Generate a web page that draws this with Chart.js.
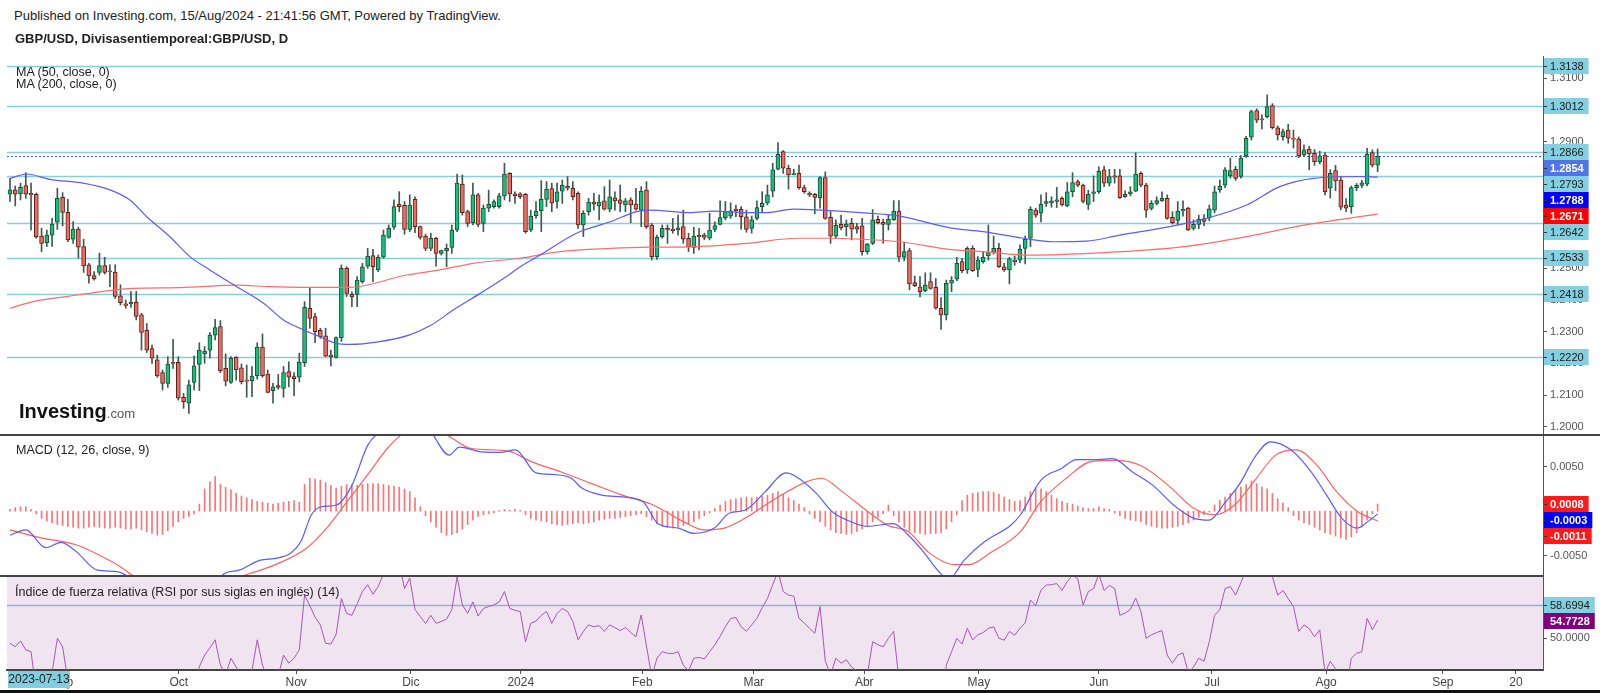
<!DOCTYPE html>
<html lang="es">
<head>
<meta charset="UTF-8">
<title>GBP/USD diario</title>
<script src="https://cdn.jsdelivr.net/npm/chart.js@4.4.1/dist/chart.umd.min.js"></script>
<style>
  body { margin: 0; background: #fff; }
  #wrap { position: relative; width: 1600px; height: 693px; overflow: hidden; font-family: "Liberation Sans", Arial, sans-serif; color: #222; }
  #wrap canvas { position: absolute; left: 0; }
  .t { position: absolute; white-space: nowrap; }
</style>
</head>
<body>
<div id="wrap">
  <canvas id="priceChart" width="1600" height="378" style="top:56px"></canvas>
  <canvas id="macdChart" width="1600" height="141" style="top:434px"></canvas>
  <canvas id="rsiChart" width="1600" height="115" style="top:575px"></canvas>

  <div class="t" style="left:14px;top:8px;font-size:13px">Published on Investing.com, 15/Aug/2024 - 21:41:56 GMT, Powered by TradingView.</div>
  <div class="t" style="left:15px;top:31px;font-size:13px;font-weight:bold">GBP/USD, Divisasentiemporeal:GBP/USD, D</div>
  <div class="t" style="left:16px;top:66px;font-size:12.5px;line-height:12px">MA (50, close, 0)<br>MA (200, close, 0)</div>
  <div class="t" style="left:19px;top:400px"><span style="font-size:20px;font-weight:bold;color:#111">Investing</span><span style="font-size:13px;color:#555">.com</span></div>
  <div class="t" style="left:16px;top:443px;font-size:12.5px">MACD (12, 26, close, 9)</div>
  <div class="t" style="left:15px;top:585px;font-size:12.5px">Índice de fuerza relativa (RSI por sus siglas en inglés) (14)</div>
  <div class="t" style="left:8px;top:671px;width:62px;height:17px;background:#80cfe0;font-size:12px;line-height:17px;text-align:center">2023-07-13</div>
  <div style="position:absolute;left:0;top:690px;width:1600px;height:3px;background:#111"></div>
</div>

<script>
// daily candles, oldest first
const openP = [
  1.2734,1.2748,1.2735,1.2761,1.2737,1.2734,1.2602,1.2581,1.2605,1.2646,
  1.2724,1.2677,1.2592,1.2624,1.2569,1.2511,1.2477,1.2487,1.2509,1.2491,
  1.2488,1.2413,1.2388,1.2388,1.2393,1.2353,1.2304,1.2247,1.2211,1.2171,
  1.2137,1.2203,1.2203,1.2093,1.2074,1.2140,1.2197,1.2230,1.2242,1.2289,
  1.2316,1.2184,1.2140,1.2219,1.2186,1.2147,1.2145,1.2161,1.2251,1.2166,
  1.2114,1.2130,1.2121,1.2174,1.2158,1.2156,1.2202,1.2374,1.2348,1.2304,
  1.2287,1.2226,1.2219,1.2281,1.2500,1.2418,1.2418,1.2458,1.2507,1.2540,
  1.2495,1.2535,1.2598,1.2630,1.2702,1.2699,1.2623,1.2718,1.2632,1.2602,
  1.2563,1.2595,1.2547,1.2556,1.2566,1.2621,1.2766,1.2679,1.2644,1.2732,
  1.2642,1.2690,1.2695,1.2695,1.2729,1.2800,1.2735,1.2735,1.2734,1.2621,
  1.2666,1.2682,1.2718,1.2752,1.2711,1.2744,1.2760,1.2753,1.2737,1.2637,
  1.2679,1.2709,1.2697,1.2713,1.2687,1.2723,1.2716,1.2700,1.2716,1.2703,
  1.2684,1.2747,1.2637,1.2537,1.2600,1.2626,1.2624,1.2621,1.2632,1.2595,
  1.2566,1.2604,1.2605,1.2595,1.2623,1.2639,1.2660,1.2665,1.2687,1.2686,
  1.2663,1.2626,1.2658,1.2695,1.2707,1.2744,1.2813,1.2869,1.2816,1.2796,
  1.2800,1.2755,1.2737,1.2734,1.2723,1.2787,1.2661,1.2602,1.2639,1.2632,
  1.2642,1.2632,1.2634,1.2553,1.2579,1.2655,1.2645,1.2639,1.2653,1.2681,
  1.2535,1.2556,1.2455,1.2442,1.2429,1.2458,1.2440,1.2374,1.2353,1.2453,
  1.2466,1.2521,1.2495,1.2563,1.2497,1.2521,1.2539,1.2550,1.2563,1.2505,
  1.2495,1.2526,1.2526,1.2563,1.2595,1.2684,1.2674,1.2705,1.2707,1.2711,
  1.2721,1.2697,1.2742,1.2774,1.2763,1.2702,1.2737,1.2742,1.2811,1.2769,
  1.2792,1.2792,1.2726,1.2735,1.2744,1.2800,1.2763,1.2689,1.2705,1.2713,
  1.2721,1.2661,1.2651,1.2682,1.2690,1.2626,1.2639,1.2657,1.2660,1.2684,
  1.2748,1.2763,1.2792,1.2813,1.2790,1.2855,1.2914,1.2998,1.2971,1.2979,
  1.3014,1.2944,1.2916,1.2937,1.2911,1.2908,1.2858,1.2877,1.2863,1.2837,
  1.2858,1.2753,1.2809,1.2779,1.2700,1.2695,1.2755,1.2762,1.2766,1.2866,
  1.2826
];
const highP = [
  1.2784,1.2760,1.2769,1.2802,1.2769,1.2738,1.2627,1.2621,1.2658,1.2753,
  1.2739,1.2718,1.2648,1.2630,1.2592,1.2516,1.2490,1.2548,1.2535,1.2511,
  1.2511,1.2448,1.2400,1.2427,1.2427,1.2358,1.2326,1.2258,1.2226,1.2179,
  1.2221,1.2276,1.2221,1.2105,1.2147,1.2223,1.2265,1.2253,1.2297,1.2339,
  1.2335,1.2230,1.2221,1.2221,1.2198,1.2195,1.2190,1.2265,1.2293,1.2179,
  1.2137,1.2165,1.2190,1.2205,1.2171,1.2232,1.2395,1.2437,1.2358,1.2311,
  1.2311,1.2242,1.2284,1.2511,1.2505,1.2426,1.2474,1.2516,1.2563,1.2560,
  1.2542,1.2621,1.2637,1.2716,1.2742,1.2711,1.2732,1.2726,1.2634,1.2608,
  1.2611,1.2598,1.2558,1.2577,1.2637,1.2798,1.2795,1.2684,1.2769,1.2737,
  1.2700,1.2747,1.2716,1.2737,1.2832,1.2802,1.2742,1.2739,1.2737,1.2684,
  1.2711,1.2777,1.2774,1.2769,1.2769,1.2779,1.2790,1.2774,1.2742,1.2682,
  1.2721,1.2737,1.2732,1.2758,1.2779,1.2742,1.2763,1.2721,1.2723,1.2753,
  1.2758,1.2774,1.2642,1.2605,1.2637,1.2637,1.2658,1.2668,1.2684,1.2611,
  1.2630,1.2626,1.2611,1.2674,1.2647,1.2713,1.2711,1.2707,1.2700,1.2695,
  1.2684,1.2665,1.2713,1.2742,1.2763,1.2832,1.2897,1.2872,1.2826,1.2813,
  1.2826,1.2763,1.2742,1.2737,1.2790,1.2805,1.2679,1.2653,1.2668,1.2653,
  1.2658,1.2642,1.2658,1.2579,1.2686,1.2665,1.2655,1.2668,1.2714,1.2714,
  1.2581,1.2563,1.2476,1.2474,1.2486,1.2486,1.2468,1.2408,1.2463,1.2474,
  1.2535,1.2532,1.2568,1.2571,1.2537,1.2553,1.2637,1.2602,1.2579,1.2516,
  1.2535,1.2539,1.2574,1.2602,1.2695,1.2690,1.2732,1.2739,1.2726,1.2756,
  1.2726,1.2771,1.2802,1.2779,1.2766,1.2747,1.2792,1.2821,1.2823,1.2813,
  1.2813,1.2813,1.2745,1.2758,1.2865,1.2805,1.2769,1.2714,1.2726,1.2742,
  1.2732,1.2679,1.2711,1.2713,1.2693,1.2653,1.2668,1.2670,1.2700,1.2760,
  1.2779,1.2818,1.2848,1.2822,1.2856,1.2917,1.3000,1.3004,1.2985,1.3048,
  1.3020,1.2950,1.2940,1.2955,1.2937,1.2915,1.2890,1.2885,1.2875,1.2870,
  1.2866,1.2812,1.2825,1.2790,1.2720,1.2760,1.2768,1.2778,1.2879,1.2874,
  1.2877
];
const lowP = [
  1.2711,1.2697,1.2716,1.2721,1.2621,1.2595,1.2553,1.2569,1.2569,1.2623,
  1.2634,1.2584,1.2579,1.2532,1.2487,1.2453,1.2463,1.2479,1.2482,1.2442,
  1.2405,1.2384,1.2374,1.2377,1.2337,1.2242,1.2234,1.2200,1.2156,1.2116,
  1.2124,1.2184,1.2084,1.2058,1.2042,1.2116,1.2114,1.2200,1.2216,1.2274,
  1.2171,1.2129,1.2137,1.2147,1.2135,1.2093,1.2095,1.2150,1.2156,1.2107,
  1.2074,1.2118,1.2093,1.2126,1.2098,1.2142,1.2190,1.2311,1.2265,1.2279,
  1.2221,1.2192,1.2216,1.2269,1.2411,1.2379,1.2379,1.2453,1.2500,1.2458,
  1.2490,1.2532,1.2595,1.2623,1.2679,1.2608,1.2616,1.2613,1.2592,1.2556,
  1.2556,1.2507,1.2542,1.2505,1.2547,1.2616,1.2668,1.2632,1.2637,1.2632,
  1.2616,1.2679,1.2690,1.2690,1.2716,1.2711,1.2705,1.2720,1.2611,1.2616,
  1.2658,1.2616,1.2695,1.2679,1.2690,1.2705,1.2747,1.2716,1.2626,1.2600,
  1.2668,1.2684,1.2653,1.2684,1.2679,1.2684,1.2679,1.2679,1.2644,1.2684,
  1.2632,1.2626,1.2526,1.2528,1.2595,1.2579,1.2611,1.2605,1.2579,1.2553,
  1.2547,1.2558,1.2590,1.2590,1.2616,1.2637,1.2653,1.2658,1.2663,1.2624,
  1.2614,1.2611,1.2653,1.2679,1.2700,1.2726,1.2811,1.2800,1.2750,1.2795,
  1.2750,1.2737,1.2726,1.2672,1.2690,1.2655,1.2579,1.2595,1.2621,1.2602,
  1.2590,1.2611,1.2542,1.2545,1.2575,1.2640,1.2579,1.2621,1.2651,1.2521,
  1.2524,1.2432,1.2442,1.2410,1.2426,1.2434,1.2371,1.2307,1.2337,1.2426,
  1.2461,1.2486,1.2484,1.2490,1.2474,1.2516,1.2526,1.2545,1.2503,1.2490,
  1.2451,1.2510,1.2518,1.2514,1.2568,1.2661,1.2647,1.2695,1.2693,1.2692,
  1.2697,1.2695,1.2726,1.2758,1.2707,1.2686,1.2711,1.2737,1.2758,1.2760,
  1.2769,1.2721,1.2724,1.2729,1.2742,1.2758,1.2661,1.2684,1.2700,1.2711,
  1.2655,1.2640,1.2637,1.2665,1.2619,1.2621,1.2625,1.2635,1.2650,1.2675,
  1.2740,1.2755,1.2785,1.2778,1.2785,1.2850,1.2905,1.2960,1.2940,1.2975,
  1.2940,1.2905,1.2905,1.2895,1.2880,1.2850,1.2855,1.2811,1.2825,1.2830,
  1.2732,1.2722,1.2745,1.2685,1.2679,1.2674,1.2745,1.2755,1.2760,1.2820,
  1.2805
];
const closeP = [
  1.2748,1.2734,1.2756,1.2734,1.2732,1.2600,1.2579,1.2605,1.2640,1.2721,
  1.2677,1.2590,1.2624,1.2567,1.2508,1.2476,1.2467,1.2509,1.2487,1.2489,
  1.2411,1.2392,1.2383,1.2393,1.2348,1.2298,1.2242,1.2216,1.2160,1.2137,
  1.2198,1.2200,1.2090,1.2079,1.2132,1.2192,1.2242,1.2239,1.2289,1.2313,
  1.2177,1.2144,1.2216,1.2179,1.2142,1.2144,1.2160,1.2251,1.2161,1.2108,
  1.2126,1.2124,1.2171,1.2156,1.2152,1.2204,1.2377,1.2342,1.2300,1.2284,
  1.2223,1.2221,1.2281,1.2500,1.2421,1.2410,1.2463,1.2505,1.2539,1.2505,
  1.2535,1.2605,1.2626,1.2695,1.2695,1.2623,1.2700,1.2632,1.2598,1.2563,
  1.2595,1.2547,1.2556,1.2563,1.2621,1.2769,1.2676,1.2642,1.2732,1.2639,
  1.2690,1.2702,1.2711,1.2729,1.2798,1.2735,1.2729,1.2726,1.2616,1.2665,
  1.2681,1.2718,1.2750,1.2707,1.2742,1.2763,1.2753,1.2726,1.2637,1.2674,
  1.2709,1.2703,1.2709,1.2687,1.2726,1.2713,1.2705,1.2713,1.2700,1.2687,
  1.2744,1.2632,1.2537,1.2598,1.2626,1.2621,1.2619,1.2628,1.2592,1.2568,
  1.2602,1.2600,1.2598,1.2621,1.2635,1.2660,1.2679,1.2682,1.2682,1.2663,
  1.2623,1.2653,1.2692,1.2705,1.2732,1.2811,1.2860,1.2816,1.2795,1.2798,
  1.2755,1.2742,1.2732,1.2724,1.2787,1.2658,1.2602,1.2636,1.2628,1.2640,
  1.2624,1.2624,1.2553,1.2577,1.2653,1.2644,1.2639,1.2655,1.2681,1.2535,
  1.2553,1.2451,1.2445,1.2426,1.2447,1.2437,1.2374,1.2353,1.2453,1.2463,
  1.2516,1.2493,1.2563,1.2493,1.2526,1.2535,1.2550,1.2563,1.2505,1.2495,
  1.2530,1.2521,1.2560,1.2592,1.2686,1.2668,1.2702,1.2711,1.2713,1.2716,
  1.2700,1.2742,1.2771,1.2763,1.2711,1.2734,1.2742,1.2807,1.2769,1.2790,
  1.2788,1.2723,1.2734,1.2742,1.2798,1.2763,1.2684,1.2705,1.2714,1.2721,
  1.2658,1.2644,1.2681,1.2686,1.2621,1.2639,1.2655,1.2648,1.2688,1.2742,
  1.2760,1.2811,1.2809,1.2784,1.2848,1.2911,1.2995,1.2968,1.2969,1.3011,
  1.2944,1.2921,1.2932,1.2911,1.2908,1.2855,1.2874,1.2861,1.2837,1.2855,
  1.2742,1.2800,1.2776,1.2693,1.2690,1.2755,1.2762,1.2770,1.2860,1.2826,
  1.2854
];

// moving averages (bar index, value)
const ma50X = [0,3.2,7.6,13.9,19,22.8,26,30.4,34.2,38,43.1,48.2,52,55.1,58.9,62.1,64.6,70,76,80,84.3,89.4,94.4,97,100.8,107.7,114.1,119.1,121.7,129.3,133.7,140,143.9,148.9,154,161.6,169.2,178.7,185,192.6,198.4,204.7,211,220.5,227.5,235.1,241.4,247.8,256.7,260];
const ma50Y = [1.2784,1.2798,1.2781,1.2769,1.2748,1.2716,1.2663,1.2600,1.2537,1.2495,1.2442,1.2390,1.2337,1.2311,1.2284,1.2263,1.2260,1.2268,1.2290,1.2320,1.2369,1.2421,1.2474,1.2505,1.2542,1.2611,1.2647,1.2679,1.2684,1.2676,1.2681,1.2676,1.2676,1.2687,1.2684,1.2676,1.2665,1.2628,1.2616,1.2595,1.2584,1.2586,1.2605,1.2632,1.2658,1.2700,1.2758,1.2784,1.2790,1.2788];
const ma200X = [0,4.4,10.8,17.1,23.4,32.3,43.1,49.4,55.8,64.6,75.4,81.7,88.1,97,104.6,114.1,121.7,129.3,140.1,149.6,155.9,161.6,169.2,178.7,185,193.9,207.2,222.4,235.7,245.2,260];
const ma200Y = [1.2374,1.2395,1.2411,1.2426,1.2437,1.2439,1.2447,1.2442,1.2440,1.2440,1.2479,1.2495,1.2516,1.2532,1.2553,1.2563,1.2567,1.2568,1.2579,1.2595,1.2595,1.2592,1.2584,1.2560,1.2553,1.2542,1.2549,1.2567,1.2602,1.2634,1.2671];

// MACD (12, 26, 9)
const macdX = [0,3,6.8,9.7,12.7,16.5,20.4,23.3,28,34,39,40.8,43.7,47.6,50.5,53.4,55.3,57.3,59.2,62.1,65,68,70.9,75,79.6,83.5,85.4,89.3,93.2,96.1,100,103.8,106.7,108.7,112.6,116.4,120.3,123.2,127.1,130,133.9,136.8,139.7,143.6,147.5,149.4,153.3,156.2,159.1,163,167.9,170.8,173.7,176.6,178.5,181.4,185.3,190.2,192.1,196,199.9,202.8,206.7,209.6,213.4,217.3,221.2,225.1,228,230.9,233.8,236.7,239.6,243.5,247.4,250.3,253.2,256.1,258.1,260];
const macdY = [-0.0027,-0.0021,-0.0041,-0.0035,-0.0046,-0.0066,-0.0068,-0.0076,-0.0090,-0.0095,-0.0080,-0.0070,-0.0066,-0.0055,-0.0053,-0.0047,-0.0034,-0.0004,0.0005,0.0007,0.0029,0.0074,0.0092,0.0105,0.0092,0.0063,0.0072,0.0067,0.0066,0.0069,0.0043,0.0041,0.0037,0.0026,0.0018,0.0016,0.0011,-0.0014,-0.0019,-0.0025,-0.0019,-0.0002,0.0001,0.0022,0.0043,0.0039,0.0020,0.0000,-0.0010,-0.0017,-0.0014,-0.0027,-0.0046,-0.0068,-0.0076,-0.0055,-0.0034,-0.0016,-0.0004,0.0035,0.0048,0.0058,0.0058,0.0059,0.0044,0.0029,0.0007,-0.0008,-0.0010,0.0009,0.0031,0.0061,0.0078,0.0069,0.0044,0.0018,-0.0008,-0.0019,-0.0012,-0.0003];
const signalX = [0,5.9,12.7,17.5,21.4,23.3,30,38,45.6,50.5,56.3,60.2,64.1,68,71.8,74.7,79,83.5,87.3,91.2,95.1,99,104.8,110.6,116.4,122.3,128.1,132,135.8,139.7,145.5,151.4,154.3,158.2,163,166.9,170.8,174.6,179.5,182.4,186.3,192.1,196,200.8,205.7,210.5,215.4,220.2,225.1,229,232.8,236.7,240.6,244.5,248.4,252.2,256.1,260];
const signalY = [-0.0021,-0.0030,-0.0038,-0.0051,-0.0064,-0.0072,-0.0083,-0.0082,-0.0070,-0.0060,-0.0042,-0.0019,0.0011,0.0041,0.0071,0.0087,0.0095,0.0084,0.0071,0.0069,0.0067,0.0056,0.0044,0.0031,0.0018,0.0007,-0.0012,-0.0021,-0.0019,-0.0008,0.0014,0.0033,0.0037,0.0022,0.0000,-0.0016,-0.0023,-0.0046,-0.0060,-0.0060,-0.0047,-0.0023,0.0011,0.0037,0.0056,0.0057,0.0050,0.0029,0.0003,-0.0004,0.0007,0.0035,0.0063,0.0069,0.0052,0.0022,0.0000,-0.0011];
const histV = [
  0.0002,0.0004,0.0005,0.0005,0.0002,-0.0003,
  -0.0008,-0.0011,-0.0013,-0.0015,-0.0016,-0.0017,-0.0018,-0.0019,-0.0019,-0.0018,-0.0017,-0.0018,-0.0019,-0.0019,-0.0018,-0.0019,-0.0020,-0.0020,-0.0019,-0.0021,-0.0023,-0.0025,-0.0027,-0.0026,-0.0022,-0.0017,-0.0012,-0.0008,-0.0006,-0.0003,
  0.0008,0.0025,0.0033,0.0039,0.0030,0.0027,0.0024,0.0020,0.0017,0.0015,0.0013,0.0011,0.0010,0.0009,0.0008,0.0009,0.0010,0.0011,0.0012,0.0010,
  0.0030,0.0037,0.0036,0.0035,0.0032,0.0029,0.0026,0.0028,0.0030,0.0030,0.0029,0.0030,0.0031,0.0031,0.0031,0.0030,0.0029,0.0028,0.0027,0.0025,0.0022,0.0015,0.0005,-0.0005,
  -0.0012,-0.0018,-0.0024,-0.0027,-0.0026,-0.0024,-0.0020,-0.0015,-0.0010,-0.0006,-0.0004,-0.0003,-0.0002,
  0.0001,0.0002,0.0001,0.0002,0.0001,
  -0.0004,-0.0008,-0.0010,-0.0011,-0.0012,-0.0014,-0.0015,-0.0016,-0.0015,-0.0014,-0.0013,-0.0014,-0.0013,-0.0012,-0.0010,-0.0009,-0.0008,-0.0008,-0.0007,-0.0006,-0.0005,-0.0004,-0.0003,-0.0006,
  -0.0010,-0.0014,-0.0017,-0.0018,-0.0019,-0.0018,-0.0016,-0.0014,-0.0012,-0.0008,-0.0005,-0.0002,
  0.0003,0.0007,0.0011,0.0013,0.0014,0.0015,0.0016,0.0015,0.0016,0.0017,0.0018,0.0020,0.0022,0.0019,0.0015,0.0012,0.0008,0.0004,
  -0.0003,-0.0008,-0.0012,-0.0017,-0.0021,-0.0024,-0.0025,-0.0026,-0.0025,-0.0023,-0.0020,-0.0016,-0.0012,-0.0007,-0.0003,
  0.0007,
  -0.0005,-0.0012,-0.0018,-0.0022,-0.0024,-0.0025,-0.0026,-0.0025,-0.0025,-0.0024,-0.0020,-0.0012,-0.0004,
  0.0012,0.0018,0.0020,0.0021,0.0022,0.0022,0.0021,0.0019,0.0016,0.0013,0.0011,0.0012,0.0016,0.0022,0.0026,0.0025,0.0022,0.0018,0.0014,0.0011,0.0009,0.0008,0.0006,0.0004,0.0003,0.0003,
  0.0005,0.0003,0.0002,-0.0002,-0.0005,
  -0.0008,-0.0010,-0.0011,-0.0012,-0.0015,-0.0017,-0.0018,-0.0019,-0.0019,-0.0018,-0.0017,-0.0015,-0.0013,-0.0010,-0.0007,-0.0004,-0.0001,
  0.0007,0.0012,0.0016,0.0020,0.0024,0.0027,0.0030,0.0034,0.0031,0.0027,0.0025,0.0020,0.0014,0.0009,0.0004,
  -0.0005,-0.0010,-0.0013,-0.0015,-0.0018,-0.0021,-0.0024,-0.0026,-0.0028,-0.0030,-0.0032,-0.0029,-0.0024,-0.0018,-0.0010,-0.0003,
  0.0008
];

// RSI (14)
const rsiV = [
  48.7,47.8,49.3,47.0,46.5,36.0,34.0,37.0,41.0,50.0,
  47.8,39.0,41.0,37.0,33.0,31.0,30.0,33.0,31.0,31.0,
  27.0,26.0,26.0,27.0,24.0,21.0,19.0,18.0,16.0,15.0,
  24.0,24.0,19.0,18.0,27.0,35.0,42.6,45.6,47.5,49.6,
  43.0,40.5,44.8,42.5,40.0,39.8,41.5,49.6,43.0,39.5,
  40.5,40.2,45.6,43.5,44.8,47.0,61.3,58.5,55.5,53.5,
  48.7,48.5,51.0,60.4,56.5,56.0,59.0,62.2,64.0,61.5,
  63.5,66.8,68.0,70.5,69.5,63.0,65.7,57.5,55.7,53.9,
  56.0,53.9,54.4,55.0,57.5,66.1,58.7,56.5,59.5,55.8,
  57.8,58.3,58.7,59.5,62.2,57.8,57.3,57.0,49.1,53.9,
  54.5,56.0,57.0,53.9,56.5,57.8,57.0,54.4,49.6,51.8,
  53.5,53.0,53.3,51.8,53.5,52.8,52.0,52.8,51.5,50.4,
  56.1,48.0,40.0,44.8,46.5,46.1,46.0,46.5,43.0,41.5,
  44.8,45.0,44.6,46.5,48.3,50.5,53.0,55.2,55.4,53.0,
  51.8,53.5,55.2,58.0,60.4,64.0,67.5,62.2,61.3,61.0,
  55.2,54.0,52.6,51.3,58.3,44.0,40.5,44.8,43.5,44.4,
  42.5,41.5,37.5,40.5,49.1,48.3,47.8,50.0,51.8,39.0,
  41.0,34.0,33.5,32.5,34.5,33.5,30.0,29.0,43.0,46.5,
  50.0,48.5,52.6,49.6,50.9,51.5,52.6,53.0,50.0,49.5,
  51.8,50.8,52.6,54.0,60.0,58.5,62.6,63.9,64.0,64.3,
  62.5,64.8,66.5,65.5,58.7,62.2,63.0,66.8,62.5,63.8,
  63.0,56.0,56.6,57.5,60.5,57.0,50.0,50.9,51.5,52.0,
  45.6,43.5,45.6,46.2,41.0,42.5,44.8,44.0,49.1,56.0,
  57.5,63.0,63.5,61.3,64.5,68.0,73.0,70.5,70.0,73.0,
  66.1,61.3,62.5,60.4,58.3,51.8,53.5,52.5,50.4,52.2,
  41.0,44.0,42.0,37.0,36.5,44.8,46.1,46.5,55.2,52.2,
  54.7728
];

const levelPrices = [1.3138, 1.3012, 1.2866, 1.2793, 1.2642, 1.2533, 1.2418, 1.2220];
const priceTicks = [1.20, 1.21, 1.22, 1.23, 1.24, 1.25, 1.26, 1.27, 1.28, 1.29, 1.30, 1.31];
const macdTicks = [0.005, -0.005];
const rsiTicks = [50];
const rsiLevel = 58.6994;
const monthPos = [10, 32.1, 54.4, 76.2, 97.1, 120.2, 141.4, 162.4, 184.2, 207, 228.5, 250.2, 272.4, 286.3];
const monthText = ['Sep', 'Oct', 'Nov', 'Dic', '2024', 'Feb', 'Mar', 'Abr', 'May', 'Jun', 'Jul', 'Ago', 'Sep', '20'];

const X_MIN = -0.57, X_MAX = 291.44;
const FONT = '"Liberation Sans", Arial, sans-serif';
const upFill = '#12c27c', upEdge = '#1f4a35', dnFill = '#f26a5e', dnEdge = '#5c211b';
const last = closeP.length - 1;
const bars = closeP.map((c, i) => i);
const isUp = bars.map(i => closeP[i] >= openP[i]);
const pts = (xs, ys) => xs.map((x, k) => ({ x, y: ys[k] }));

function xAxis(show) {
  return {
    type: 'linear', min: X_MIN, max: X_MAX, offset: false, display: show,
    afterBuildTicks: s => { s.ticks = monthPos.map(v => ({ value: v })); },
    afterFit: s => {
      if (show) s.height = 20; else s.height = 0;
      s.paddingLeft = 0; s.paddingRight = 0;
    },
    ticks: { autoSkip: false, maxRotation: 0, color: '#444', font: { family: FONT, size: 12 }, padding: 1,
             callback: (v, k) => monthText[k] },
    grid: { drawOnChartArea: false, offset: false, tickLength: 4, color: '#555' },
    border: { color: '#444', width: 2 }
  };
}

function yAxis(min, max, ticks, fmt) {
  return {
    position: 'right', min, max,
    afterBuildTicks: s => { s.ticks = ticks.map(v => ({ value: v })); },
    afterFit: s => { s.width = 57; s.paddingTop = 0; s.paddingBottom = 0; },
    ticks: { color: '#555', font: { family: FONT, size: 11 }, padding: 3, callback: fmt },
    grid: { drawOnChartArea: false, tickLength: 4, color: '#555' },
    border: { color: '#555', width: 1 }
  };
}

const baseOpts = {
  responsive: false, animation: false, events: [],
  layout: { padding: { left: 7, right: 0, top: 0, bottom: 0 } },
  plugins: { legend: { display: false }, tooltip: { enabled: false } }
};

// value tags on the right axis, pushed down when they overlap
function drawTags(chart, tags) {
  const { ctx, chartArea: a, scales: { y } } = chart;
  const h = 16;
  const list = tags.map(t => ({ ...t, py: y.getPixelForValue(t.v) })).sort((p, q) => p.py - q.py);
  let prev = -1e9;
  for (const t of list) { if (t.py < prev + h) t.py = prev + h; prev = t.py; }
  ctx.save();
  ctx.textBaseline = 'middle';
  for (const t of list) {
    ctx.font = (t.bold ? 'bold ' : '') + '11px ' + FONT;
    const w = ctx.measureText(t.text).width + 11;
    const top = Math.round(t.py - h / 2);
    ctx.fillStyle = t.bg;
    ctx.fillRect(a.right + 1, top, w, h);
    ctx.fillStyle = '#333';
    ctx.fillRect(a.right + 1, Math.round(t.py), 3, 1);
    ctx.fillStyle = t.fg;
    ctx.fillText(t.text, a.right + 7, t.py + 0.5);
  }
  ctx.restore();
}

function hLine(ctx, a, py, color, width, dash) {
  ctx.save();
  ctx.strokeStyle = color; ctx.lineWidth = width;
  if (dash) ctx.setLineDash(dash);
  ctx.beginPath(); ctx.moveTo(a.left, py); ctx.lineTo(a.right, py); ctx.stroke();
  ctx.restore();
}

// ---- price pane
new Chart(document.getElementById('priceChart'), {
  type: 'bar',
  data: {
    datasets: [
      { type: 'line', data: pts(ma50X, ma50Y), borderColor: '#5a5cff', borderWidth: 1.2, pointRadius: 0, cubicInterpolationMode: 'monotone', order: 0 },
      { type: 'line', data: pts(ma200X, ma200Y), borderColor: '#ff6b6b', borderWidth: 1.2, pointRadius: 0, cubicInterpolationMode: 'monotone', order: 0 },
      { data: bars.map(i => ({ x: i, y: [openP[i], closeP[i]] })),
        backgroundColor: bars.map(i => isUp[i] ? upFill : dnFill),
        borderColor: bars.map(i => isUp[i] ? upEdge : dnEdge),
        borderWidth: 1, borderSkipped: false, barThickness: 4, minBarLength: 1, grouped: false, order: 1 },
      { data: bars.map(i => ({ x: i, y: [lowP[i], highP[i]] })),
        backgroundColor: '#3d5a4e', barThickness: 1, grouped: false, order: 2 }
    ]
  },
  options: {
    ...baseOpts,
    scales: {
      x: xAxis(false),
      y: yAxis(1.19769, 1.31706, priceTicks, v => v.toFixed(4))
    }
  },
  plugins: [{
    id: 'priceDecor',
    beforeDatasetsDraw(chart) {
      const { ctx, chartArea: a, scales: { y } } = chart;
      levelPrices.forEach(p => hLine(ctx, a, Math.round(y.getPixelForValue(p)) + 0.5, '#86cfdf', 1.5));
      hLine(ctx, a, Math.round(y.getPixelForValue(closeP[last])) + 0.5, '#3b55ee', 1, [2, 2]);
    },
    afterDraw(chart) {
      const tags = levelPrices.map(p => ({ v: p, text: p.toFixed(4), bg: '#84cfe0', fg: '#1a1a1a' }));
      tags.push({ v: closeP[last], text: closeP[last].toFixed(4), bg: '#4f74e8', fg: '#fff', bold: true });
      tags.push({ v: ma50Y[ma50Y.length - 1], text: ma50Y[ma50Y.length - 1].toFixed(4), bg: '#0000ff', fg: '#fff', bold: true });
      tags.push({ v: ma200Y[ma200Y.length - 1], text: ma200Y[ma200Y.length - 1].toFixed(4), bg: '#ff0000', fg: '#fff', bold: true });
      drawTags(chart, tags);
    }
  }]
});

// ---- MACD pane
new Chart(document.getElementById('macdChart'), {
  type: 'bar',
  data: {
    datasets: [
      { type: 'line', data: pts(macdX, macdY), borderColor: '#5a5cff', borderWidth: 1.2, pointRadius: 0, cubicInterpolationMode: 'monotone', order: 0 },
      { type: 'line', data: pts(signalX, signalY), borderColor: '#ff6060', borderWidth: 1.2, pointRadius: 0, cubicInterpolationMode: 'monotone', order: 1 },
      { data: bars.map(i => ({ x: i, y: histV[i] })), backgroundColor: 'rgba(255,90,90,0.85)', barThickness: 1, grouped: false, order: 2 }
    ]
  },
  options: {
    ...baseOpts,
    scales: {
      x: xAxis(false),
      y: yAxis(-0.007169, 0.008674, macdTicks, v => v.toFixed(4))
    }
  },
  plugins: [{
    id: 'macdDecor',
    afterDraw(chart) {
      const { ctx } = chart;
      ctx.save(); ctx.fillStyle = '#444'; ctx.fillRect(0, 0, 1600, 2); ctx.restore();
      drawTags(chart, [
        { v: histV[last], text: histV[last].toFixed(4), bg: '#ff1a1a', fg: '#fff', bold: true },
        { v: macdY[macdY.length - 1], text: macdY[macdY.length - 1].toFixed(4), bg: '#0000ff', fg: '#fff', bold: true },
        { v: signalY[signalY.length - 1], text: signalY[signalY.length - 1].toFixed(4), bg: '#ff1a1a', fg: '#fff', bold: true }
      ]);
    }
  }]
});

// ---- RSI pane with the time axis
new Chart(document.getElementById('rsiChart'), {
  type: 'line',
  data: {
    datasets: [
      { data: bars.map(i => ({ x: i, y: rsiV[i] })), borderColor: '#a855b7', borderWidth: 1, pointRadius: 0 }
    ]
  },
  options: {
    ...baseOpts,
    scales: {
      x: xAxis(true),
      y: yAxis(41.72, 66.53, rsiTicks, v => v.toFixed(4))
    }
  },
  plugins: [{
    id: 'rsiDecor',
    beforeDraw(chart) {
      const { ctx, chartArea: a } = chart;
      ctx.save(); ctx.fillStyle = '#f1e4f1'; ctx.fillRect(a.left, a.top, a.right - a.left, a.bottom - a.top); ctx.restore();
    },
    beforeDatasetsDraw(chart) {
      const { ctx, chartArea: a, scales: { y } } = chart;
      hLine(ctx, a, Math.round(y.getPixelForValue(rsiLevel)) + 0.5, '#8fb3d6', 1.5);
    },
    afterDraw(chart) {
      const { ctx, chartArea: a } = chart;
      ctx.save(); ctx.fillStyle = '#444'; ctx.fillRect(0, 0, a.right, 2); ctx.restore();
      drawTags(chart, [
        { v: rsiLevel, text: rsiLevel.toFixed(4), bg: '#84cfe0', fg: '#1a1a1a' },
        { v: rsiV[last], text: rsiV[last].toFixed(4), bg: '#800080', fg: '#fff', bold: true }
      ]);
    }
  }]
});
</script>
</body>
</html>
